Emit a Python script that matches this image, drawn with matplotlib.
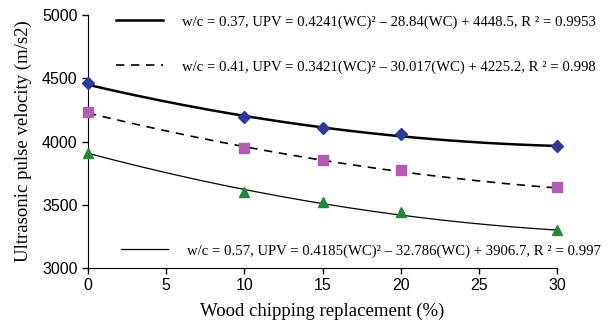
import numpy as np
import matplotlib
matplotlib.use("Agg")
import matplotlib.pyplot as plt

# data
replacement = [0, 10, 15, 20, 30]
upv_037 = [4460, 4195, 4110, 4060, 3965]
upv_041 = [4235, 3950, 3855, 3775, 3640]
upv_057 = [3913, 3600, 3521, 3441, 3298]

# trendline coefficients from the labels
fit_037 = [0.4241, -28.84, 4448.5]
fit_041 = [0.3421, -30.017, 4225.2]
fit_057 = [0.4185, -32.786, 3906.7]

labels = ["w/c = 0.37, UPV = 0.4241(WC)\u00b2 \u2013 28.84(WC) + 4448.5, R \u00b2 = 0.9953",
          "w/c = 0.41, UPV = 0.3421(WC)\u00b2 \u2013 30.017(WC) + 4225.2, R \u00b2 = 0.998",
          "w/c = 0.57, UPV = 0.4185(WC)\u00b2 \u2013 32.786(WC) + 3906.7, R \u00b2 = 0.997"]

serif = "Liberation Serif"
sans = "Liberation Sans"

fig = plt.figure(figsize=(6.12, 3.24), dpi=100)
ax = fig.add_axes([88/612, 1-268/324, (557-88)/612, (268-15)/324])

xs = np.linspace(0, 30, 200)
l1, = ax.plot(xs, np.polyval(fit_037, xs), color="black", lw=1.8)
l2, = ax.plot(xs, np.polyval(fit_041, xs), color="black", lw=1.2, ls=(0, (5, 4)))
l3, = ax.plot(xs, np.polyval(fit_057, xs), color="black", lw=0.9)

ax.plot(replacement, upv_037, ls="none", marker="D", ms=6, color="#2b3a9c", clip_on=False, zorder=5)
ax.plot(replacement, upv_041, ls="none", marker="s", ms=6.5, color="#b35ab3", clip_on=False, zorder=5)
ax.plot(replacement, upv_057, ls="none", marker="^", ms=7.5, color="#23893a", clip_on=False, zorder=5)

ax.set_xlim(0, 30)
ax.set_ylim(3000, 5000)
ax.set_xticks([0, 5, 10, 15, 20, 25, 30])
ax.set_yticks([3000, 3500, 4000, 4500, 5000])
ax.spines["top"].set_visible(False)
ax.spines["right"].set_visible(False)
ax.tick_params(direction="out", length=4, width=1, labelsize=11.5)
for t in ax.get_xticklabels() + ax.get_yticklabels():
    t.set_fontfamily(sans)

ax.set_xlabel("Wood chipping replacement (%)", fontfamily=serif, fontsize=13.5, labelpad=7)
ax.set_ylabel("Ultrasonic pulse velocity (m/s2)", fontfamily=serif, fontsize=13.5, labelpad=7)

# legend entries placed separately like the original
pos = [(116, 22), (116, 67), (121, 251)]
for h, lab, (px, py) in zip([l1, l2, l3], labels, pos):
    leg = fig.legend([h], [lab], loc="center left",
                     bbox_to_anchor=(px/612, 1-py/324), frameon=False,
                     borderpad=0, borderaxespad=0, handlelength=3.2,
                     handletextpad=1.3, prop={"family": serif, "size": 10.6})

fig.savefig("out.png", dpi=100)
